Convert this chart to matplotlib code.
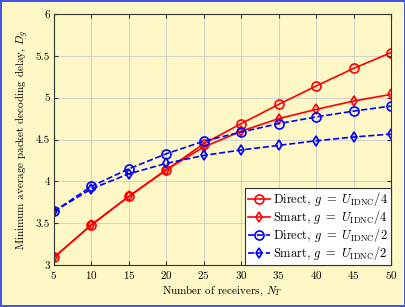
import matplotlib
matplotlib.use("Agg")
import matplotlib.pyplot as plt

plt.rcParams['font.family'] = 'serif'
plt.rcParams['font.serif'] = ['cmr10', 'DejaVu Serif']
plt.rcParams['mathtext.fontset'] = 'cm'
plt.rcParams['axes.formatter.use_mathtext'] = True

receivers = [5, 10, 15, 20, 25, 30, 35, 40, 45, 50]
direct_u4 = [3.09, 3.48, 3.82, 4.135, 4.45, 4.69, 4.92, 5.14, 5.35, 5.54]
smart_u4 = [3.09, 3.48, 3.82, 4.14, 4.41, 4.60, 4.75, 4.86, 4.96, 5.04]
direct_u2 = [3.64, 3.94, 4.15, 4.33, 4.48, 4.59, 4.69, 4.77, 4.84, 4.90]
smart_u2 = [3.64, 3.91, 4.09, 4.215, 4.31, 4.375, 4.43, 4.485, 4.53, 4.565]

bg = '#fdf8c6'
fig = plt.figure(figsize=(4.06, 3.07), dpi=100, facecolor=bg,
                 edgecolor='#4455ee', linewidth=1.5)
ax = fig.add_axes([0.133, 0.137, 0.830, 0.817])
ax.set_facecolor(bg)

ax.plot(receivers, direct_u4, '-o', color='red', lw=1.2, ms=6.5, mfc='none', mew=1.2,
        label=r'Direct, $g\ =\ U_{\mathrm{IDNC}}/4$')
ax.plot(receivers, smart_u4, '-d', color='red', lw=1.2, ms=5, mfc='none', mew=1.2,
        label=r'Smart, $g\ =\ U_{\mathrm{IDNC}}/4$')
ax.plot(receivers, direct_u2, '--o', color='blue', lw=1.2, ms=6.5, mfc='none', mew=1.2,
        label=r'Direct, $g\ =\ U_{\mathrm{IDNC}}/2$')
ax.plot(receivers, smart_u2, '--d', color='blue', lw=1.2, ms=5, mfc='none', mew=1.2,
        label=r'Smart, $g\ =\ U_{\mathrm{IDNC}}/2$')

ax.set_xlim(5, 50)
ax.set_ylim(3, 6)
ax.set_xticks(receivers)
ax.set_yticks([3, 3.5, 4, 4.5, 5, 5.5, 6])
ax.set_yticklabels(['3', '3.5', '4', '4.5', '5', '5.5', '6'])
ax.grid(True, color='#cccccc', lw=0.6)
ax.tick_params(direction='in', top=True, right=True, labelsize=8, length=3,
               color='#333333', pad=3)
for s in ax.spines.values():
    s.set_color('#333333')
    s.set_linewidth(0.8)

ax.set_xlabel(r'Number of receivers, $N_T$', fontsize=8, labelpad=2)
ax.set_ylabel(r'Minimum average packet decoding delay, $D_g$', fontsize=8, labelpad=3)

leg = ax.legend(loc='lower right', fontsize=9, fancybox=False, framealpha=1,
                edgecolor='#333333', borderaxespad=0, handlelength=1.8,
                labelspacing=0.0, borderpad=0.2, handletextpad=0.25)
leg.get_frame().set_linewidth(0.8)

fig.savefig('out.png', dpi=100, facecolor=bg, edgecolor='#4455ee')
